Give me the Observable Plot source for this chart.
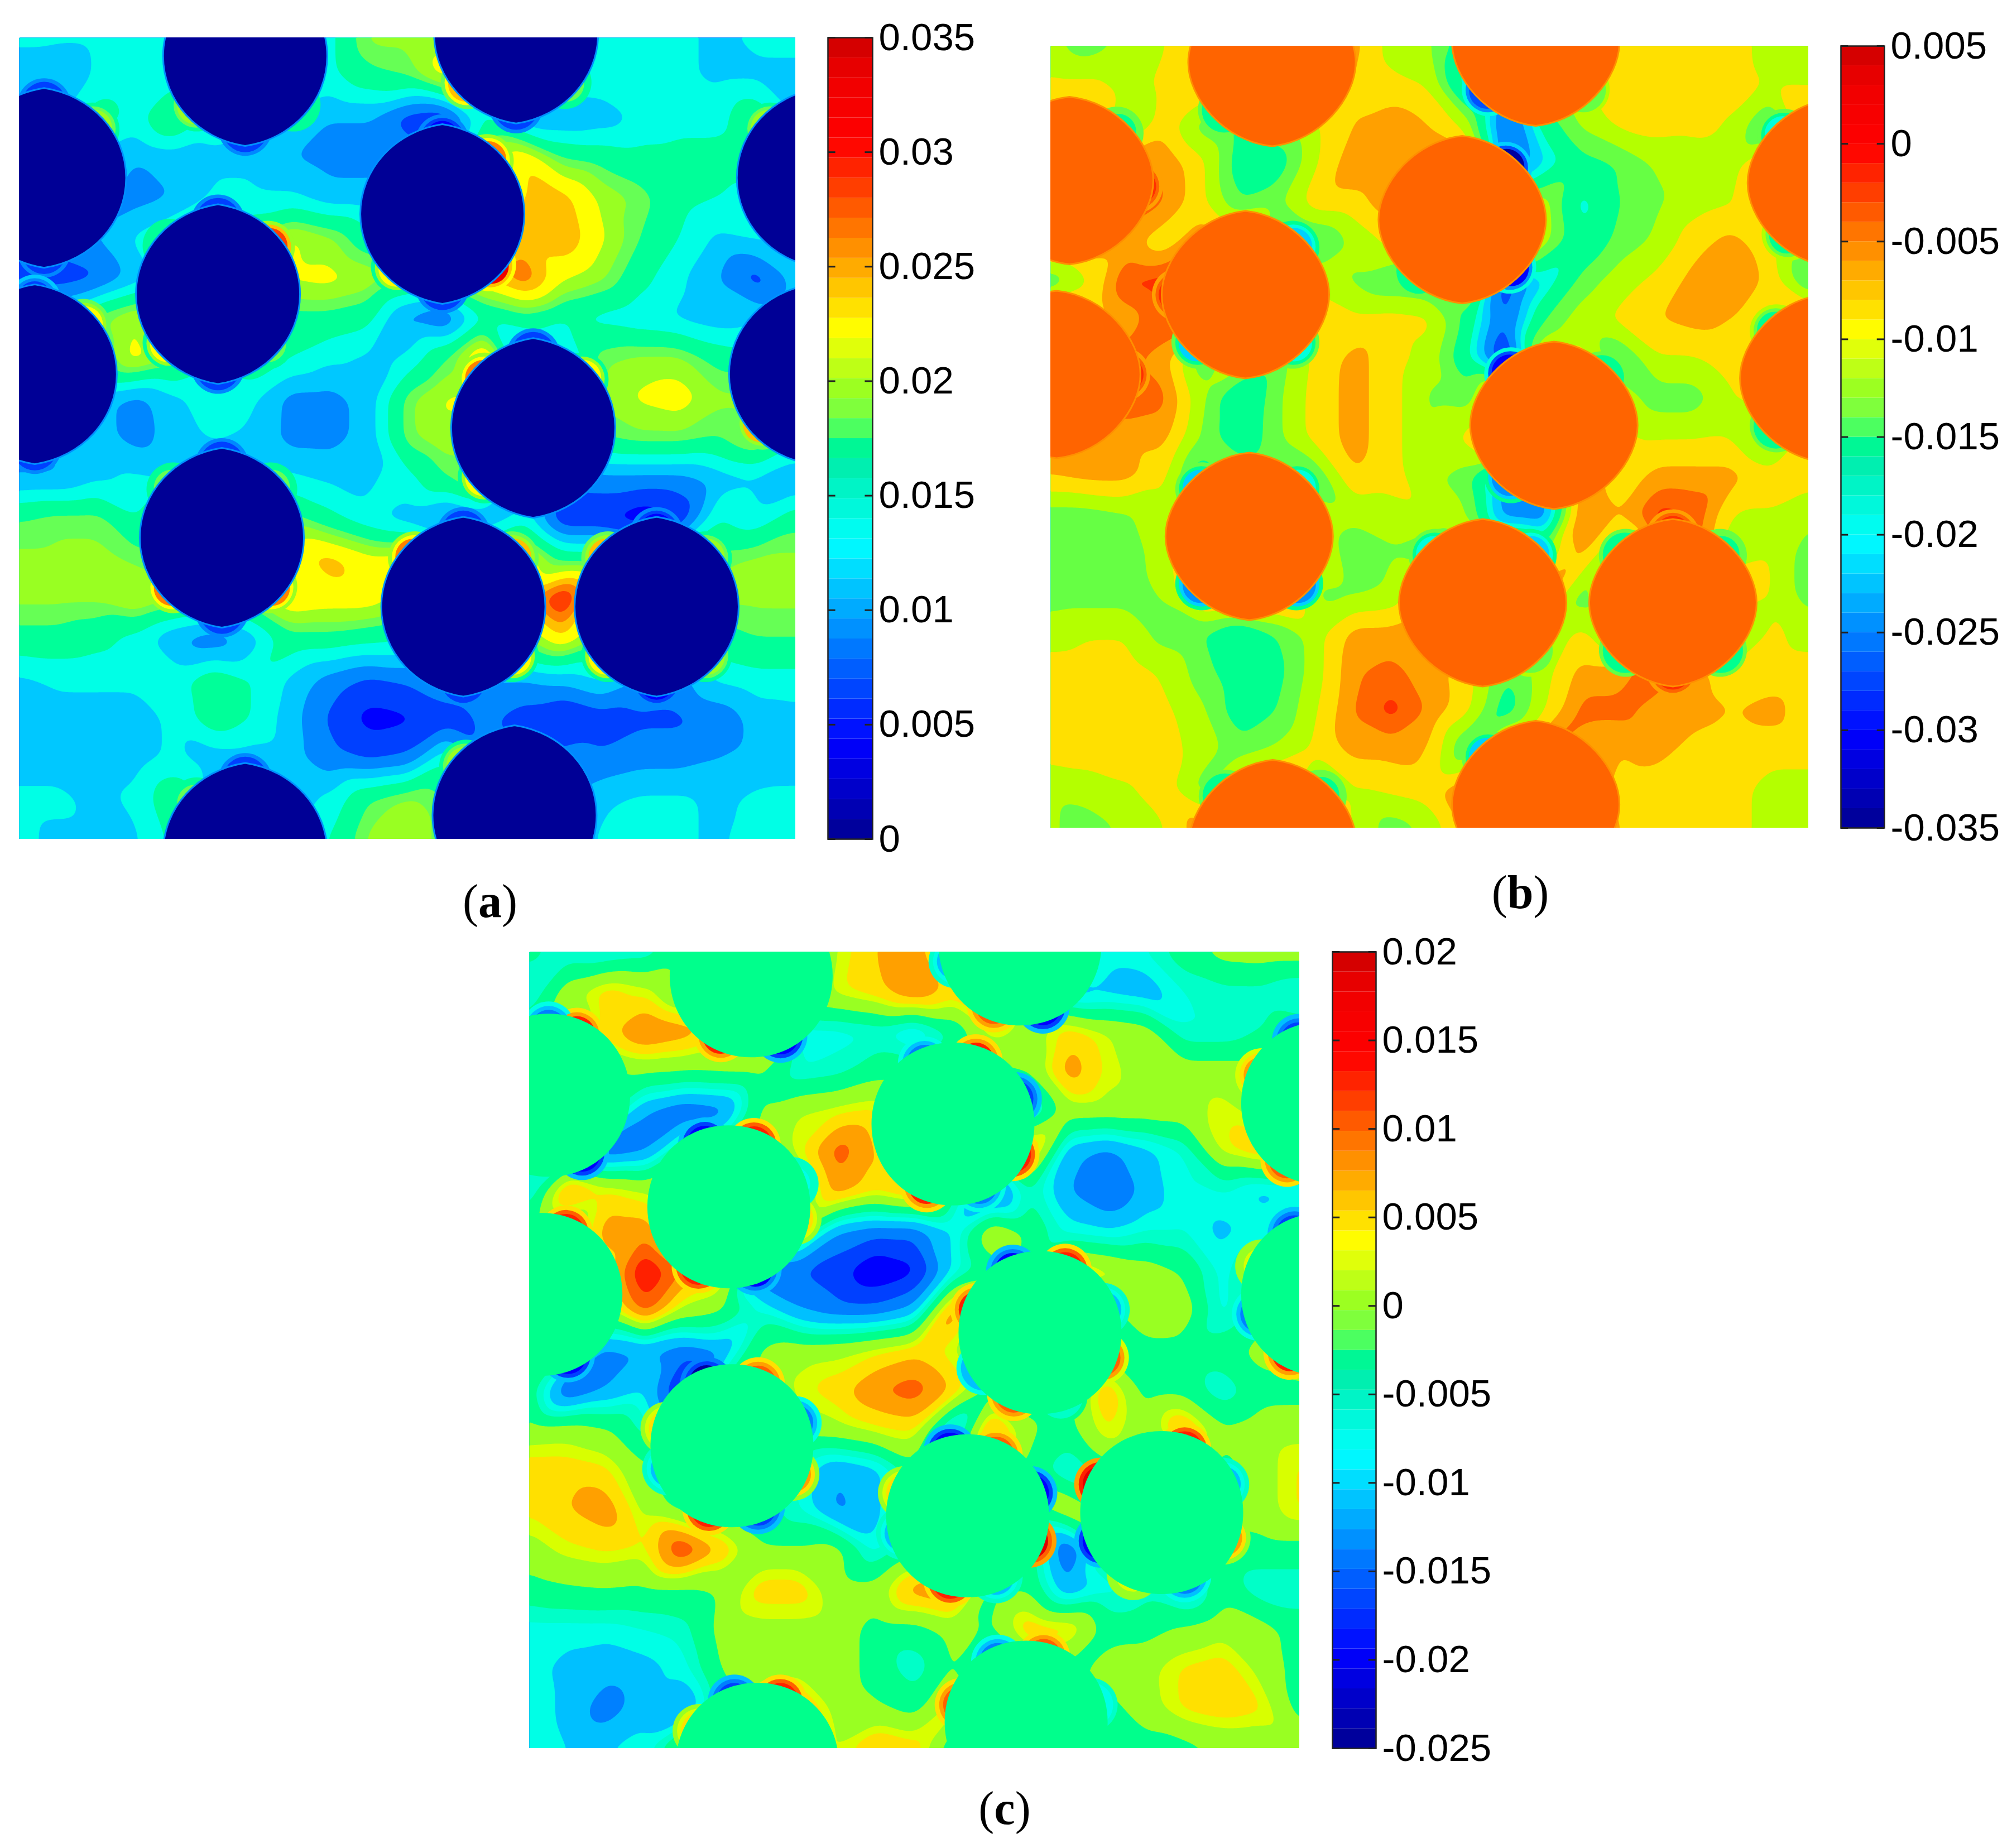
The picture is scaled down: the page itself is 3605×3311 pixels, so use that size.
<!DOCTYPE html>
<html><head><meta charset="utf-8">
<script src="https://cdn.jsdelivr.net/npm/d3@7"></script>
<script src="https://cdn.jsdelivr.net/npm/@observablehq/plot@0.6"></script>
<style>
html,body{margin:0;padding:0;background:#fff;width:3605px;height:3311px;overflow:hidden}
.p{position:absolute}
.cap{position:absolute;font-family:"Liberation Serif",serif;font-size:84px;line-height:1;transform:translate(-50%,-50%);color:#000}
</style></head><body>
<script>
// values in thousandths, grid every 5% of the panel, rows top to bottom
const fieldA=[
[13,13,13,13,13,13,13,13,14,20,20,21,15,15,14,13,13,13,12,13,13],
[11,10,13,13,14,14,14,14,14,17,18,23,14,14,14,14,13,13,12,12,12],
[12,12,17,14,19,14,13,12,10,10,6,5,15,10,10,11,13,14,14,18,12],
[11,11,12,10,11,12,12,10,9,9,9,9,20,24,18,17,16,16,16,17,13],
[11,11,11,9,10,13,13,13,11,11,20,20,22,24,25,21,19,16,15,14,13],
[8,9,10,13,16,16,18,22,20,16,20,20,22,25,26,22,18,15,12,13,12],
[7,6,7,11,14,16,20,22,22.5,21,19,20,24,28,22,20,16,13,10,6,11],
[13,14,19,22,14,14,14,17,17,16,9,7,15,17,15,14,13,12,11,12,12],
[13,14,17,23,20,16,18,15,13,12,13,18,26,9,11,19,20,20,17,16,15],
[12,12,11,9,12,14,13,9,9,11,19,22,22,20,20,20,22,23,20,20,17],
[9,10,11,9,11,13,12,9,9,11,19,21,20,20,18,18,19,19,18,21,16],
[10,10,12,13,12,8,12,13,12,12,14,18,22,9,8,9,9,9,11,12,10],
[18,19,19,15,18,18,18,19,16,13,11,8,10,14,5,5,3,5,15,13,17],
[20,20,20,19,19,19,19,23,25,22.5,23,20,20,24,17,17,17,17,19,20,20],
[20,20,20,22,20,20,20,24,23,23,20,20,20,25,32,20,20,20,20,20,20],
[17,17,16,14,10,8,11,17,17,16,15,15,15,19,24,19,15,15,17,18,18],
[12,13,13,13,14,17,15,12,9,7,8,10,10,10,11,13,10,9,13,14,14],
[11.5,11.5,11.5,11.5,13,17,15,11,7,4,4.5,6,8,6,4,6,7,7,8,11,11.5],
[11.5,11.5,11.5,11.5,13,11,11,11,8,7,8,15,8,8,9,8,9,9,10,11,11.5],
[13,13,12,13,18,10,8,11,13,18,20,18,10,10,10,12,13,13,12,13,13],
[13,12,12,12,16,12,12,14,15,20,22,18,10,10,10,13,13,13,12,14,13]];
const fieldB=[
[-11,-13,-11,-9,-5,-3,-3,-4,-5,-10,-11,-16,-4,-3,-3,-7.5,-7.5,-7.5,-7.5,-10,-11],
[-8,-8,-10,-8,-6,-3,-3,-4,-6,-8,-9,-20,-24,-4,-9,-7.5,-7.5,-7.5,-7.5,-9,-9],
[-3,-3,-13,-7,-13,-15,-12,-9,-6,-4,-6,-10,-27,-16,-11,-8,-7.5,-8,-9,-16,-4],
[-3,-3,-4,-4,-8,-16,-16,-9,-4,-4,-5,-4,-26,-20,-15,-14,-11,-10,-10,-4,-3],
[-3,-3,-2,-3.5,-8,-14,-12,-7,-7,-4,-3,-3,-3,-10,-19,-14,-12,-10,-9,-4,-3],
[-3,-3,-5,-8,-3,-3,-18,-15,-11,-8,-3,-3,-3,-10,-17,-13,-11,-7,-5,-8,-12],
[-14,-9,-1.5,-1,-3,-3,-3,-10,-12,-14,-15,-5,-28,-20,-13,-10,-8,-5,-3,-7,-15],
[-4,-8,-5,-2,-3,-3,-3,-6,-8,-7.5,-8,-15,-26,-14,-10,-8,-6,-5,-6,-9,-4],
[-3,-3,-3,-5,-14,-9,-13,-8,-5,-7.5,-10,-17,-30,-7,-7,-15,-9,-9,-8,-10,-3],
[-3,-3,-2,-3,-11,-18,-12,-7.5,-5,-7.5,-12,-13,-3,-3,-3,-9,-13,-13,-9,-6,-3],
[-3,-4,-5,-5,-12,-17,-12,-7.5,-5,-7.5,-12,-8,-3,-3,-3,-8,-9,-9,-9,-14,-7],
[-6,-5,-5,-8,-17,-11,-11,-14,-6,-7.5,-11,-13,-24,-20,-3,-8,-5,-5,-5,-7.5,-7.5],
[-13,-13,-12,-9,-3,-3,-3,-10,-11,-10,-9,-11,-24,-25,-3,-6,-1,-2,-9,-9,-11],
[-13,-13,-13,-10,-3,-3,-3,-9,-13,-12,-15,-3,-3,-12,-5,-14,-3,-3,-12,-9,-13],
[-13,-13,-13,-11,-3,-3,-3,-12,-12,-11,-3,-3,-3,-3,-13,-3,-3,-3,-3,-9,-13],
[-10,-9,-9,-13,-14,-17,-14,-10,-5,-5,-3,-3,-3,-11,-8,-12,-3,-3,-14,-8,-10],
[-7.5,-7.5,-7.5,-9,-13,-16,-15,-10,-4,-3,-5,-7.5,-14,-10,-5,-5,-2,-5,-7.5,-7.5,-7.5],
[-7.5,-7.5,-7.5,-8,-11,-16,-14,-9,-3.5,-1,-4,-8,-16,-9,-3,-3,-5,-5,-6,-5,-7.5],
[-7.5,-7.5,-7.5,-7.5,-10,-13,-11,-8,-5,-5,-6,-15,-3,-3,-5,-6,-5,-7,-7.5,-7.5,-7.5],
[-11,-10,-9,-7.5,-13,-4,-4,-14,-9,-8,-7,-3,-3,-3,-3,-7,-7.5,-7.5,-7.5,-10,-10],
[-11,-13,-11,-9,-4,-3,-3,-5,-9,-13,-11,-5,-3,-3,-3,-6,-7.5,-7.5,-7.5,-10,-11]];
const fieldC=[
[-3.4,-7,-8,-7,-3,-3,-3,-3,2,6,8,-1,-3,-3,-3,-8,-7,-3,0,0.5,0.5],
[-8,1,5,3,-3,-3,-3,-3,3,5,9,5,8,-8,-11,-10,-11,-7,-6,-6,-8],
[-3,-3,5,10,8,5,6,-8,-8,-7,-10,-5,3,0.5,5,2,0.5,-7,-7,-5,-3],
[-3,-3,-3,-1,-1.5,-1,-1,-7,-6,-3,-3,-3,-3,-1,8,3,0.5,0.5,0.5,0.5,-3],
[-3,-3,-3,-12,-15,-14,-1,2,3,4,-3,-3,-3,-10,0.5,0.5,0.5,0.5,3,0.5,-3],
[-3,-10,-15,-13,-3,-3,-3,3,11,6,-3,-3,-3,8,-11,-13,-10,-7,3,6,0.5],
[-8,8,4,2,-3,-3,-3,-3,8,4,7,-3,-16,-5,-12,-16,-11,-7,-7,-10,-9],
[-3,-3,8,8,-3,-3,-3,-1,-12,-14,-14,-9,2,-2,-8,-9,-7,-7,-10,-8,-6],
[-3,-3,4,16,9,6,-15,-15,-17,-21,-19,-9,-3,-3,6,3,0.5,-2,-8,-3,-3],
[-3,-3,1,11,1,-1,-7,-12,-14,-14,-11,9,-3,-3,-3,-3,2,1,-8,-3,-3],
[-3,-4,-13,-12,-14,-12,-1,0.5,1,3,5,2,-3,-3,-3,-3,-3,-3,-3,0,5],
[-3,-16,-12,-9,-20,-3,-3,3,5,9,11,6,-3,-3,-3,6,-3,-3,-7,-3,-3],
[0,0.5,-1,-6,-3,-3,-3,0.5,1,3,4,-11,9,-1,-3,4,-1,8,-1,0.5,1],
[5,5,4,-1,-3,-3,-3,-7,-12,-10,-3,-3,-3,-3,-8,-3,-3,-3,-3,0.5,4],
[4,6,8,1,-3,-3,-3,-7,-13,-10,-3,-3,-3,-3,2,-3,-3,-3,-3,0.5,4],
[0.5,3,4,3,13,6,-1,-1,0,-8,-3,-3,-3,-3,-16,-3,-3,-3,-3,-3,-3],
[-3,-2,-1.5,-2,-2,-1,5,5,0,0,8,10,-3,-2,-12,-8,-6,-10,-3,-7,-7],
[-8,-8,-8,-7,-6,0,1,1,0.5,-3,-3,0,-2,6,5,-3,-3,-1,1,0,-3],
[-8,-10,-11,-10,-8,-1,0,0.5,0.5,-3,-7,-1,-9,-3,-3,0,1,4,5,1,-3],
[-7,-10,-14,-10,-13,-3,8,8,0.5,-1,-3,4,-3,-3,-3,-3,0.5,4,5,4,-3],
[-7,-9,-9,-8,1,-3,-3,-3,2,7,5,-5,-3,-3,-3,-3,-3,-3,-1,-1,0.5]];

// fibre centres, in % of the panel
const fibresA=[[29.1,2.3],[64,-0.5],[3.2,17.5],[54.5,22],[25.6,32],[103,17.5],[2,42],[102,42],[66.2,48.7],[26.1,62.4],[57.2,71],[82.1,71],[63.8,97],[29.1,101.7]];
const fibresB=[[29.2,2.1],[64,-0.5],[2.5,17.2],[54.3,22.2],[25.7,31.8],[103,17.5],[0.8,42],[102,42.5],[66.4,48.5],[26.2,62.7],[57,71.2],[82.1,71.2],[64,97],[29.3,102]];
const fibresC=[[28.8,3],[63.7,-1],[2.5,18],[55,21.6],[25.9,32],[103,19],[1.5,43],[103,43],[66.3,47.8],[26.3,62],[56.9,70.8],[82.1,70.4],[64.5,96.7],[29.6,102]];

// rim crescents: fibre index, bearing in degrees (0 right, 90 down), peak value
const rimA=[[3,-50,27],[3,47,30],[3,-90,4],[3,90,5],[3,130,22],
[4,-43,28],[4,-90,5],[4,90,5],[4,45,19],[4,135,22],[4,-135,17],
[9,-45,19],[9,45,26],[9,135,26],[9,-135,19],[9,-90,5],[9,90,5],
[8,-135,27],[8,-45,22],[8,135,22],[8,-90,5],
[10,-45,24],[10,-135,26],[10,45,22],[10,90,5],[10,-90,5],
[11,-135,24],[11,135,22],[11,-45,20],[11,45,20],[11,-90,3],[11,90,4],
[2,-45,20],[2,-90,5],[2,90,5],[6,-45,23],[6,90,5],[6,-90,7],
[0,135,20],[0,90,5],[0,45,17],[1,135,25],[1,90,5],[1,45,18],
[5,-135,21],[7,135,24],[12,-135,21],[13,-135,19],[13,-90,5]];
const rimB=[[3,-50,-32],[3,45,-30],[8,-130,-31],[8,130,-24],[10,-45,-22],[4,-45,-22],[4,135,-20],[4,45,-19],
[9,-135,-20],[9,-45,-18],[9,135,-25],[9,45,-24],[3,130,-17],[0,135,-17],[2,-45,-16],[5,-135,-18],[5,130,-15],
[7,-135,-15],[7,135,-17],[8,-45,-17],[10,-135,-18],[11,-135,-17],[11,-45,-16],[11,45,-17],[11,135,-17],
[12,-135,-20],[13,-135,-17],[13,-45,-16],[10,45,-14],[1,135,-28],[1,45,-14],
[2,5,-1],[4,180,-1],[6,0,-1],[11,-90,-1],[11,90,-1]];
const rimC=[[0,117,12],[0,64,-20],[1,70,-20],[1,113,11],[1,165,-11],[2,-65,12],[2,60,-21],[2,-90,-13],
[3,-115,-13],[3,-70,12],[3,-22,-16],[3,27,13],[3,113,12],[3,67,-15],
[4,-68,13],[4,-111,-20],[4,117,13],[4,67,-19],[4,10,4],[4,-20,-8],
[5,205,7],[5,122,11],[5,-111,-16],[6,-68,13],[6,66,-20],
[7,-115,-17],[7,119,12],[7,163,-14],[7,205,2],
[8,-68,13],[8,-114,-19],[8,200,12],[8,148,-12],[8,-20,-11],[8,22,9],[8,113,10],[8,72,-6],
[9,-67,11],[9,-112,-22],[9,195,5],[9,160,-11],[9,-20,-14],[9,25,6],[9,110,14],[9,67,-17],
[10,-105,-20],[10,-65,10],[10,200,5],[10,165,-11],[10,-20,-21],[10,22,15],[10,105,13],[10,65,-10],
[11,-70,13],[11,-25,-10],[11,22,6],[11,205,17],[11,155,-20],[11,115,3],[11,70,-14],
[12,-75,11],[12,-115,-13],[12,195,10],[12,-15,-9],[13,-70,13],[13,-110,-18],[13,210,5]];

// filled contour levels
const levelsA=[0,3,5,7.5,10,12.5,15,18,19.5,21.5,24,26,28,30];
const coloursA=["#0000a0","#0000ff","#0040ff","#0088ff","#00c8ff","#00ffe6","#00ff99","#66ff55","#99ff22","#ffff00","#ffc000","#ff8000","#ff4000","#ee0000"];
const levelsB=[-35,-31,-28,-25,-22,-19.5,-17.5,-14,-11.5,-8.75,-6,-3.75,-2,0];
const coloursB=["#0000a0","#0000ff","#0050ff","#0090ff","#00d0ff","#00ffdd","#00ff90","#66ff44","#b4ff00","#ffe000","#ffa000","#ff6400","#ff3000","#ee0000"];
const levelsC=[-25,-21,-18,-15,-12,-9,-7,-5,-1.5,2,3.5,6,9,12,15];
const coloursC=["#0000a0","#0000ff","#0040ff","#0080ff","#00c0ff","#00ffe6","#00ffc8","#00ff8c","#99ff22","#d8ff00","#ffe000","#ffa000","#ff6000","#ff2000","#e00000"];

const ticksA=[0,5,10,15,20,25,30,35];
const ticksB=[-35,-30,-25,-20,-15,-10,-5,0,5];
const ticksC=[-25,-20,-15,-10,-5,0,5,10,15,20];
const jetPos=[0,0.12,0.37,0.47,0.505,0.515,0.56,0.635,0.87,0.95,1];
const jetCol=["#000090","#0000ff","#00ffff","#00eeaa","#00ff80","#66ff55","#99ff22","#ffff00","#ff0000","#f00000","#cc0000"];
const BANDS=40;
function jet(t){const i=Math.max(1,d3.bisectRight(jetPos,t));const j=Math.min(i,jetPos.length-1);
  return d3.interpolateRgb(jetCol[j-1],jetCol[j])((t-jetPos[j-1])/(jetPos[j]-jetPos[j-1]));}

function place(el,x,y){el.classList.add("p");el.style.left=x+"px";el.style.top=y+"px";document.body.appendChild(el);}
function lens(k,sx,sy){return {draw(c,size){const r=Math.sqrt(size/Math.PI),a=r,b=r*k;
  c.moveTo(0,-b);
  c.bezierCurveTo(0.58*a,-sy*b,a,-sx*b,a,0);
  c.bezierCurveTo(a,sx*b,0.58*a,sy*b,0,b);
  c.bezierCurveTo(-0.58*a,sy*b,-a,sx*b,-a,0);
  c.bezierCurveTo(-a,-sx*b,-0.58*a,-sy*b,0,-b);
  c.closePath();}};}

function panel(o){
  const {field,fibres,rim,base,levels,colours,lo,hi,ticks,x,y,w,h,barX,barW,fibreFill,edge,edgeW,rx,ry,sx,sy,thin}=o;
  const step=(hi-lo)/BANDS;
  const barLevels=d3.range(BANDS).map(i=>lo+i*step);
  const barColor={type:"threshold",domain:barLevels.slice(1),range:barLevels.map((_,i)=>jet((i+0.5)/BANDS))};
  const pts=field.flatMap((row,r)=>row.map((v,c)=>({u:c*5,v:r*5,val:v})));
  // crescents: a small disc tucked under the fibre so only its sliver shows
  const layer=(thick,rr,frac)=>Plot.dot(rim,{
    x:d=>{const f=fibres[d[0]],t=d[1]*Math.PI/180,R=1/Math.hypot(Math.cos(t)/rx,Math.sin(t)/ry);return f[0]+Math.cos(t)*(R+thick*thin-rr)/w*100;},
    y:d=>{const f=fibres[d[0]],t=d[1]*Math.PI/180,R=1/Math.hypot(Math.cos(t)/rx,Math.sin(t)/ry);return f[1]+Math.sin(t)*(R+thick*thin-rr)/h*100;},
    r:rr,fill:d=>base+(d[2]-base)*frac,clip:"frame"});
  const chart=Plot.plot({width:w,height:h,margin:0,
    x:{domain:[0,100],axis:null},y:{domain:[0,100],reverse:true,axis:null},
    color:{type:"threshold",domain:levels.slice(1),range:colours},
    marks:[
      Plot.contour(pts,{x:"u",y:"v",fill:"val",thresholds:levels,interpolate:"barycentric",pixelSize:2,blur:6}),
      layer(22,48,0.5),layer(14,40,0.75),layer(7,32,1),
      Plot.dot(fibres,{x:d=>d[0],y:d=>d[1],r:rx,symbol:lens(ry/rx,sx,sy),fill:fibreFill,stroke:edge,strokeWidth:edgeW,clip:"frame"})
    ]});
  place(chart,x,y);
  const mT=60,mB=60;
  const bar=Plot.plot({width:barW+260,height:h+mT+mB,marginTop:mT,marginBottom:mB,marginLeft:0,marginRight:260,
    style:{fontFamily:"'Liberation Sans',Arial,sans-serif",background:"transparent",overflow:"visible"},
    x:{domain:[0,1],axis:null},y:{domain:[lo,hi],axis:null},color:barColor,
    marks:[
      Plot.rect(barLevels,{x1:0,x2:1,y1:d=>d,y2:d=>d+step,fill:d=>d}),
      Plot.ruleY(ticks,{x1:0,x2:0.17,stroke:"#222",strokeWidth:3}),
      Plot.ruleY(ticks,{x1:0.83,x2:1,stroke:"#222",strokeWidth:3}),
      Plot.frame({stroke:"#222",strokeWidth:2.5}),
      Plot.axisY(ticks,{anchor:"right",tickSize:0,tickPadding:11,fontSize:69,fill:"#000",
        tickFormat:d=>d===0?"0":String(+(d/1000).toFixed(3)),label:null})
    ]});
  place(bar,barX,y-mT);
}
panel({field:fieldA,fibres:fibresA,rim:rimA,base:13,levels:levelsA,colours:coloursA,lo:0,hi:35,ticks:ticksA,x:34,y:67,w:1391,h:1436,barX:1483,barW:80,
  fibreFill:"#000096",edge:"#0090ff",edgeW:3,rx:147,ry:161,sx:0.5,sy:0.92,thin:0.8});
panel({field:fieldB,fibres:fibresB,rim:rimB,base:-8,levels:levelsB,colours:coloursB,lo:-35,hi:5,ticks:ticksB,x:1882,y:82,w:1358,h:1401,barX:3298,barW:78,
  fibreFill:"#ff6400",edge:"#ff9000",edgeW:3,rx:150,ry:150,sx:0.42,sy:0.94,thin:0.8});
panel({field:fieldC,fibres:fibresC,rim:rimC,base:-3,levels:levelsC,colours:coloursC,lo:-25,hi:20,ticks:ticksC,x:948,y:1705,w:1380,h:1427,barX:2387,barW:78,
  fibreFill:"#00ff8c",edge:"none",edgeW:0,rx:146,ry:146,sx:0.55,sy:1,thin:1});

[["a",878,1615],["b",2724,1599],["c",1800,3240]].forEach(([t,x,y])=>{
  const d=document.createElement("div");d.className="cap";d.style.left=x+"px";d.style.top=y+"px";
  d.innerHTML="(<b>"+t+"</b>)";document.body.appendChild(d);});
</script>
</body></html>
